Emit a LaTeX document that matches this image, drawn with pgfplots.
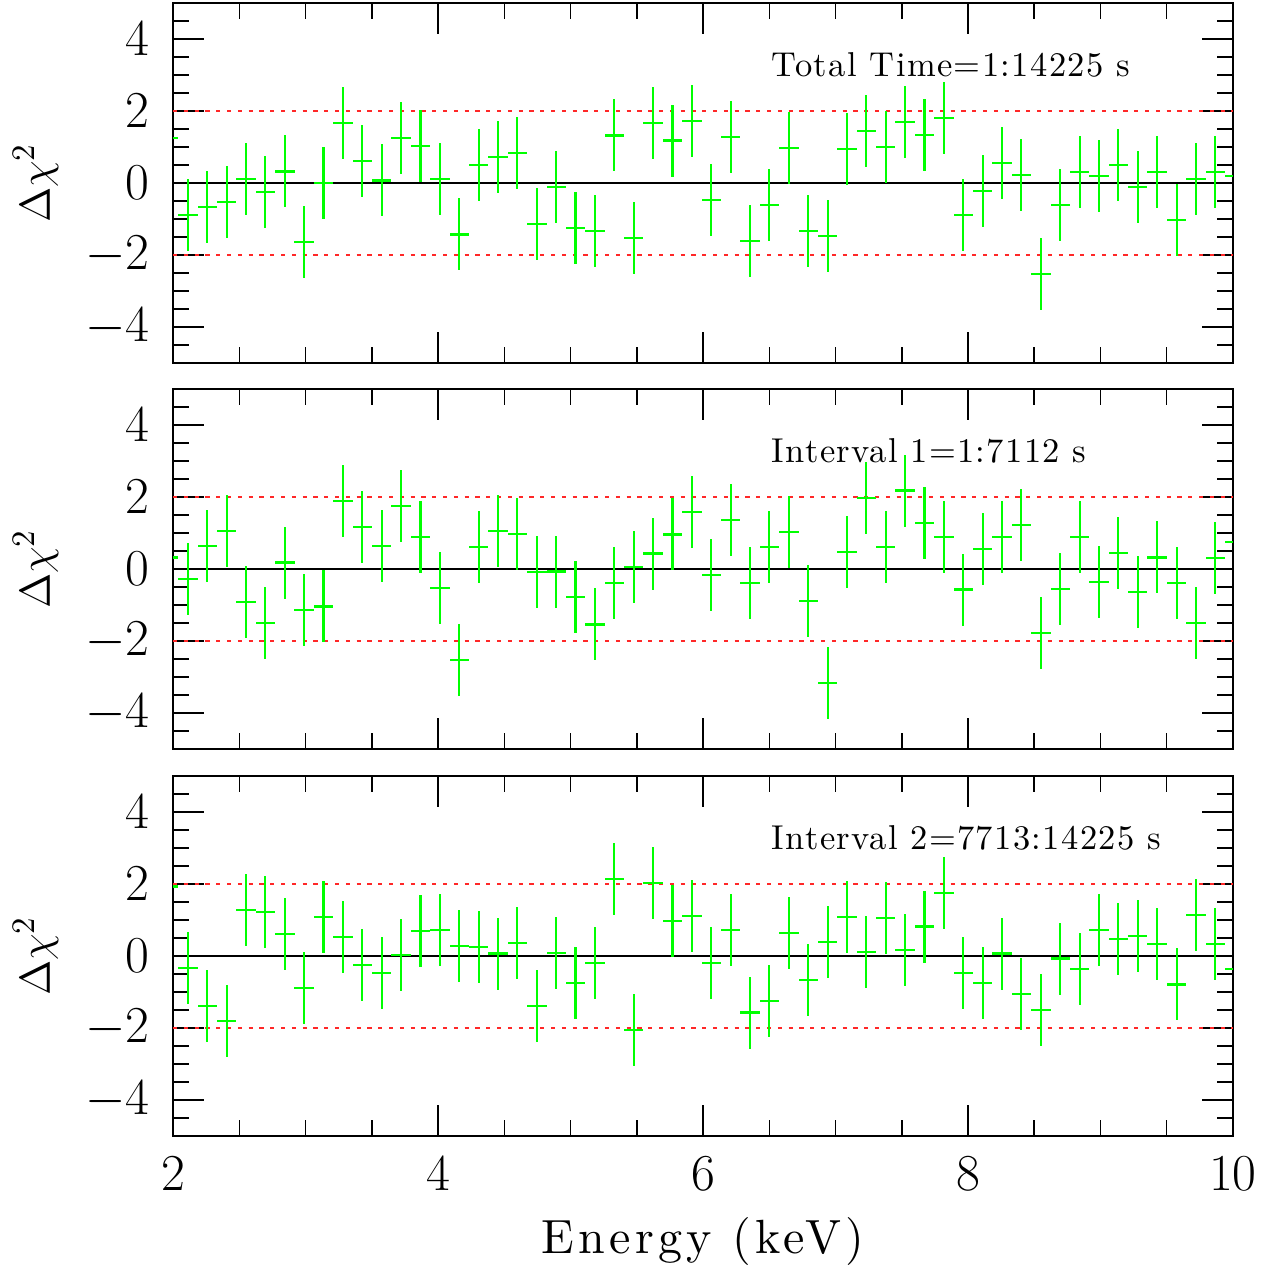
\documentclass[border=0pt]{standalone}
\usepackage{fontspec}
\setmainfont{lmroman10-regular.otf}
\usepackage{pgfplots}
\usepackage{pgfplotstable}
\pgfplotsset{compat=1.18}
\definecolor{errgreen}{RGB}{0,255,0}
\definecolor{refred}{RGB}{255,40,40}

\pgfplotstableread{
x      ya     yb     yc
1.966  1.26   0.32   1.93
2.112 -0.89  -0.27  -0.33
2.259 -0.67   0.65  -1.40
2.405 -0.53   1.05  -1.80
2.551  0.11  -0.91   1.27
2.697 -0.25  -1.49   1.22
2.844  0.32   0.18   0.60
2.990 -1.65  -1.15  -0.88
3.136  0.00  -1.04   1.09
3.283  1.66   1.90   0.52
3.429  0.60   1.17  -0.26
3.575  0.07   0.64  -0.47
3.722  1.24   1.75   0.03
3.868  1.03   0.88   0.69
4.014  0.11  -0.53   0.72
4.161 -1.43  -2.53   0.27
4.307  0.51   0.61   0.25
4.453  0.72   1.05   0.07
4.599  0.83   0.97   0.37
4.746 -1.15  -0.08  -1.38
4.892 -0.12  -0.07   0.09
5.038 -1.26  -0.78  -0.74
5.185 -1.34  -1.54  -0.20
5.331  1.32  -0.38   2.14
5.477 -1.52   0.06  -2.06
5.624  1.67   0.43   2.02
5.770  1.18   0.96   0.97
5.916  1.72   1.58   1.11
6.062 -0.47  -0.16  -0.20
6.209  1.27   1.35   0.72
6.355 -1.62  -0.40  -1.57
6.501 -0.60   0.60  -1.24
6.648  0.98   1.03   0.63
6.794 -1.34  -0.90  -0.67
6.940 -1.47  -3.16   0.40
7.087  0.95   0.48   1.08
7.233  1.45   1.97   0.12
7.379  1.00   0.60   1.05
7.525  1.69   2.18   0.16
7.672  1.34   1.29   0.82
7.818  1.80   0.90   1.76
7.964 -0.90  -0.57  -0.47
8.111 -0.21   0.56  -0.76
8.257  0.56   0.90   0.07
8.403  0.21   1.22  -1.05
8.550 -2.54  -1.79  -1.51
8.696 -0.60  -0.55  -0.07
8.842  0.30   0.90  -0.35
8.988  0.19  -0.36   0.72
9.135  0.50   0.45   0.47
9.281 -0.11  -0.65   0.55
9.427  0.30   0.32   0.33
9.574 -1.02  -0.40  -0.79
9.720  0.12  -1.49   1.13
9.866  0.31   0.30   0.33
10.013 0.19   0.75  -0.37
}\resid

\pgfplotsset{
  residax/.style={
    scale only axis, width=353.33pt, height=120pt,
    anchor=south west,
    xmin=2, xmax=10, ymin=-5, ymax=5,
    xtick={2,4,6,8,10}, minor xtick={2,2.5,...,10},
    ytick={-4,-2,0,2,4}, minor ytick={-4.5,-4,...,4.5},
    xtick pos=both, ytick pos=both,
    tick align=inside,
    major tick length=10.3pt, minor tick length=5.3pt,
    axis line style={line width=0.7pt},
    every tick/.style={black, line width=0.5pt},
    tick label style={font=\fontsize{16}{16}\selectfont},
    yticklabel style={xshift=-4.3pt},
    xticklabel style={yshift=-3.4pt},
    ylabel={$\Delta\chi^2$},
    every axis y label/.style={at={(rel axis cs:-0.1297,0.5)}, rotate=90, anchor=center, font=\fontsize{15}{15}\selectfont},
    clip=true,
  },
  refline/.style={refred, dash pattern=on 1.4pt off 2.2pt, line width=0.5pt, forget plot},
  zeroline/.style={black, line width=0.4pt, forget plot},
  resbars/.style={draw=none, mark=none, forget plot,
    error bars/.cd, x dir=both, x fixed=0.0731, y dir=both, y fixed=1, error mark=none,
    error bar style={draw=errgreen, line width=0.7pt, solid}},
}
\tikzset{annot/.style={anchor=base west, font=\fontsize{11.5}{12}\selectfont\addfontfeatures{LetterSpace=4}}}

\begin{document}
\begin{tikzpicture}
\useasboundingbox (0,0) rectangle (425.33pt,422.67pt);

\begin{axis}[residax, at={(57.67pt,301.67pt)}, xticklabels={}]
  \addplot[refline] coordinates {(2,2) (10,2)};
  \addplot[refline] coordinates {(2,-2) (10,-2)};
  \addplot[zeroline] coordinates {(2,0) (10,0)};
  \addplot[resbars] table[x=x, y=ya] {\resid};
  \node[annot] at (axis cs:6.44,2.97) {Total Time=1:14225 s};
\end{axis}

\begin{axis}[residax, at={(57.67pt,173pt)}, xticklabels={}]
  \addplot[refline] coordinates {(2,2) (10,2)};
  \addplot[refline] coordinates {(2,-2) (10,-2)};
  \addplot[zeroline] coordinates {(2,0) (10,0)};
  \addplot[resbars] table[x=x, y=yb] {\resid};
  \node[annot] at (axis cs:6.44,2.97) {Interval 1=1:7112 s};
\end{axis}

\begin{axis}[residax, at={(57.67pt,44pt)}]
  \addplot[refline] coordinates {(2,2) (10,2)};
  \addplot[refline] coordinates {(2,-2) (10,-2)};
  \addplot[zeroline] coordinates {(2,0) (10,0)};
  \addplot[resbars] table[x=x, y=yc] {\resid};
  \node[annot] at (axis cs:6.44,2.97) {Interval 2=7713:14225 s};
\end{axis}

\node[anchor=base, font=\fontsize{16}{16}\selectfont\addfontfeatures{LetterSpace=9}] at (234.33pt,5pt) {Energy (keV)};
\end{tikzpicture}
\end{document}
